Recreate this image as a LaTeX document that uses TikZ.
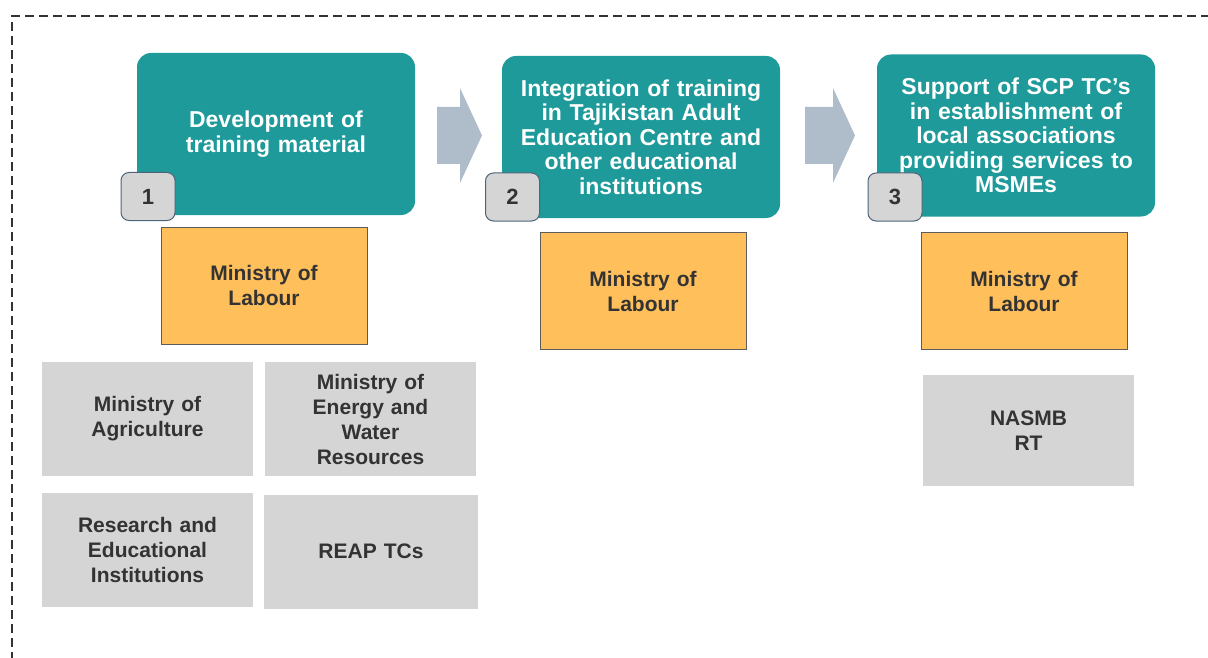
\documentclass[tikz,border=0pt]{standalone}
\usepackage{fontspec}
\setmainfont{Liberation Sans}
\usepackage{tikz}
\usepackage{xcolor}
\usetikzlibrary{
    calc,
    positioning
}
\definecolor{stepteal}{HTML}{1F9A9A}
\definecolor{leadorange}{HTML}{FFBF5B}
\definecolor{partnergray}{HTML}{D5D5D5}
\definecolor{flowgray}{HTML}{AFBCC9}
\definecolor{badgeedge}{HTML}{4F6479}
\definecolor{darktext}{HTML}{333333}
\tikzset{
    stepbox/.style={rectangle, rounded corners=14pt, fill=stepteal, text=white,
        minimum width=278pt, minimum height=162pt, text width=262pt, align=center,
        font=\bfseries\fontsize{23}{24.5}\selectfont},
    leadbox/.style={rectangle, fill=leadorange, draw=darktext!80, line width=0.8pt,
        minimum width=206pt, minimum height=117pt, text width=190pt, align=center,
        text=darktext, font=\bfseries\fontsize{21}{25}\selectfont},
    partnerbox/.style={rectangle, fill=partnergray, minimum width=211pt,
        minimum height=114pt, text width=195pt, align=center,
        text=darktext, font=\bfseries\fontsize{21}{25}\selectfont},
    badge/.style={rectangle, rounded corners=8pt, fill=partnergray, draw=badgeedge,
        line width=1pt, minimum width=54pt, minimum height=48pt,
        text=darktext, font=\bfseries\fontsize{22}{24}\selectfont}
}
\begin{document}
\begin{tikzpicture}[x=1pt, y=-1pt]
    \useasboundingbox (0, 0) rectangle (1208, 658);
    % frame
    \draw[darktext, line width=2.3pt, dash pattern=on 9pt off 5pt] (1210, 16) -- (12, 16) -- (12, 660);
    % block arrows
    \foreach \x/\len in {437/45, 805/50} {
        \begin{scope}[shift={(\x, 0)}]
            \fill[flowgray] (0, 107) -- (\len - 22, 107) -- (\len - 22, 88) -- (\len, 135.5) -- (\len - 22, 183) -- (\len - 22, 164) -- (0, 164) -- cycle;
        \end{scope}
    }
    % steps
    \node[stepbox] (dev) at (276, 134) {Development of\\training material};
    \node[stepbox] (integ) at (641, 137) {Integration of training\\in Tajikistan Adult\\Education Centre and\\other educational\\institutions};
    \node[stepbox] (supp) at (1016, 135.5) {Support of SCP TC's\\in establishment of\\local associations\\providing services to\\MSMEs};
    \node[badge] (n1) at (148, 196.5) {1};
    \node[badge] (n2) at (512.5, 197) {2};
    \node[badge] (n3) at (895, 197) {3};
    % lead ministries
    \node[leadbox] (lab1) at (264, 285.5) {Ministry of\\Labour};
    \node[leadbox] (lab2) at (643, 291) {Ministry of\\Labour};
    \node[leadbox] (lab3) at (1024, 291) {Ministry of\\Labour};
    % partners
    \node[partnerbox] (agri) at (147.5, 419) {Ministry of\\Agriculture};
    \node[partnerbox] (energy) at (370.5, 419) {Ministry of\\Energy and\\Water\\Resources};
    \node[partnerbox] (research) at (147.5, 550) {Research and\\Educational\\Institutions};
    \node[partnerbox, minimum width=214pt] (reap) at (371, 551.5) {REAP TCs};
    \node[partnerbox, minimum height=111pt] (nasmb) at (1028.5, 430.5) {NASMB\\RT};
\end{tikzpicture}
\end{document}
